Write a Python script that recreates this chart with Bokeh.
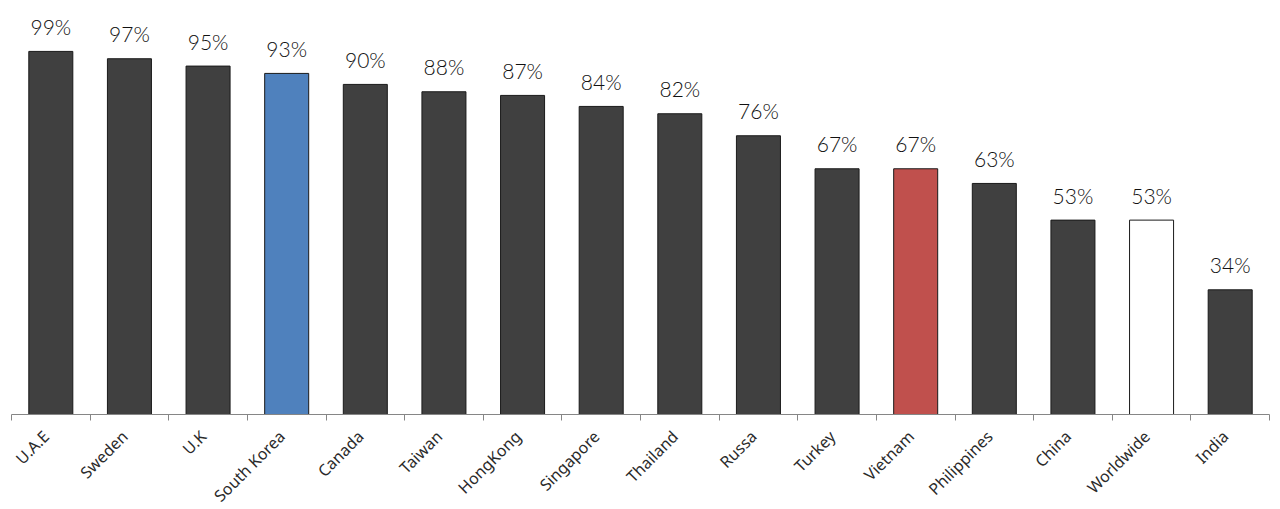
from bokeh.plotting import figure
from bokeh.models import ColumnDataSource, FixedTicker, Range1d
from bokeh.core.properties import value
from bokeh.embed import file_html
from bokeh.resources import INLINE
import math

countries = ["U.A.E", "Sweden", "U.K", "South Korea", "Canada", "Taiwan", "HongKong",
             "Singapore", "Thailand", "Russa", "Turkey", "Vietnam", "Philippines",
             "China", "Worldwide", "India"]
shares = [99, 97, 95, 93, 90, 88, 87, 84, 82, 76, 67, 67, 63, 53, 53, 34]

highlight = {"South Korea": "#4F81BD", "Vietnam": "#C0504D", "Worldwide": "#FFFFFF"}

xs = [i + 0.5 for i in range(len(countries))]
colors = [highlight.get(c, "#404040") for c in countries]
labels = ["%d%%" % v for v in shares]

src = ColumnDataSource(data=dict(x=xs, top=shares, color=colors, label=labels))

p = figure(frame_width=1258, frame_height=406, output_backend="svg",
           toolbar_location=None, y_axis_location=None,
           x_range=Range1d(0, len(countries)), y_range=Range1d(0, 110.7),
           min_border_left=11, min_border_right=2, min_border_top=8)
p.outline_line_color = None
p.xgrid.grid_line_color = None
p.ygrid.grid_line_color = None

p.vbar(x="x", top="top", width=0.56, bottom=0, source=src,
       fill_color="color", line_color="#1a1a1a", line_width=1)

p.text(x="x", y="top", text="label", source=src, y_offset=-25,
       text_align="center", text_baseline="alphabetic",
       text_font=value("Lato Light, Lato"), text_font_size="21px", text_color="#111111")

# label ticks sit a little left of the bar centres, like the original
label_ticks = [x - 0.06 for x in xs]
ax = p.xaxis[0]
ax.ticker = FixedTicker(ticks=label_ticks, minor_ticks=list(range(len(countries) + 1)))
ax.major_label_overrides = {x: c for x, c in zip(label_ticks, countries)}
ax.major_label_orientation = math.pi / 4
ax.major_label_text_font = "Noto Sans"
ax.major_label_text_font_size = "16px"
ax.major_label_text_color = "#2a2a2a"
ax.major_label_standoff = 13
ax.major_tick_line_color = None
ax.minor_tick_in = 0
ax.minor_tick_out = 6
ax.minor_tick_line_color = "#868686"
ax.axis_line_color = "#868686"

open("out.html", "w").write(file_html(p, INLINE))
